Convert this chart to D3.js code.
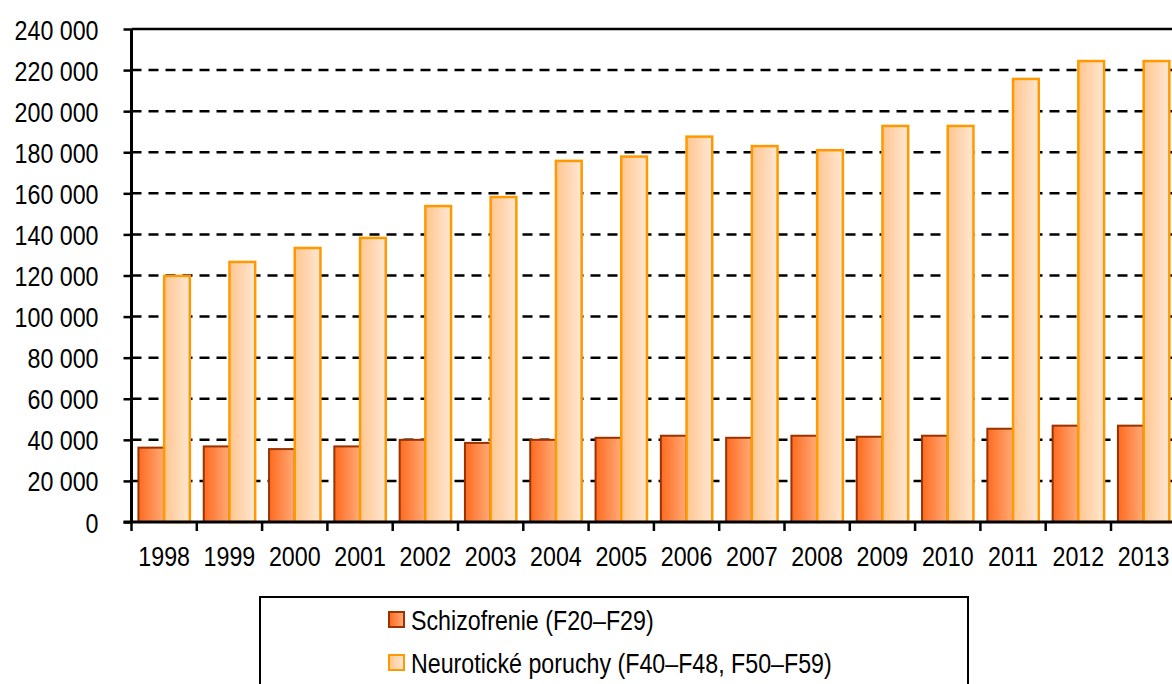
<!DOCTYPE html>
<html>
<head>
<meta charset="utf-8"/>
<script src="https://d3js.org/d3.v7.min.js"></script>
<style>
  body { margin: 0; background: #fff; }
  text { font-family: "Liberation Sans", Arial, sans-serif; font-size: 27px; fill: #000; }
</style>
</head>
<body>
<div id="chart"></div>
<script>
// data
var years = ["1998","1999","2000","2001","2002","2003","2004","2005","2006","2007","2008","2009","2010","2011","2012","2013"];
var schizo = [36200, 36800, 35500, 36800, 40000, 38500, 40000, 41000, 42000, 41000, 42000, 41500, 42000, 45400, 46900, 46900];
var neuro = [119800, 126600, 133400, 138300, 153800, 158200, 175800, 177900, 187600, 183000, 181000, 192800, 192800, 215700, 224400, 224400];
var seriesNames = ["Schizofrenie (F20\u2013F29)", "Neurotick\u00e9 poruchy (F40\u2013F48, F50\u2013F59)"];
var yTicks = [0, 20000, 40000, 60000, 80000, 100000, 120000, 140000, 160000, 180000, 200000, 220000, 240000];

var width = 1172, height = 684;
var plotLeft = 131.5, plotTop = 29, plotBottom = 522;
var k = 0.86; // text is narrower than plain Arial

var loc = d3.formatLocale({decimal: ",", thousands: " ", grouping: [3], currency: ["", ""]});
var fmt = loc.format(",");

var svg = d3.select("#chart").append("svg")
    .attr("width", width)
    .attr("height", height);

var defs = svg.append("defs");
function grad(id, c1, c2) {
    var g = defs.append("linearGradient").attr("id", id)
        .attr("x1", 0).attr("x2", 1).attr("y1", 0).attr("y2", 0);
    g.append("stop").attr("offset", "0%").attr("stop-color", c1);
    g.append("stop").attr("offset", "100%").attr("stop-color", c2);
}
grad("g-schizo", "#ff6a1f", "#ffab78");
grad("g-neuro", "#ffc690", "#ffe7d2");

var x = d3.scaleBand().domain(years).range([plotLeft, plotLeft + 16 * 65.3]);
var xs = d3.scaleBand().domain([0, 1]).range([0, x.bandwidth()]).paddingOuter(0.27);
var y = d3.scaleLinear().domain([0, 240000]).range([plotBottom, plotTop]);

// gridlines
svg.append("g").selectAll("line")
    .data(yTicks.filter(function(d){ return d > 0 && d < 240000; }))
    .enter().append("line")
    .attr("x1", plotLeft).attr("x2", width)
    .attr("y1", function(d){ return y(d); })
    .attr("y2", function(d){ return y(d); })
    .attr("stroke", "#000")
    .attr("stroke-width", 2.5)
    .attr("stroke-dasharray", "10,7");

// top border
svg.append("line")
    .attr("x1", plotLeft).attr("x2", width)
    .attr("y1", y(240000)).attr("y2", y(240000))
    .attr("stroke", "#000").attr("stroke-width", 2.5);

// bars
var groups = svg.append("g").selectAll("g")
    .data(years)
    .enter().append("g")
    .attr("transform", function(d){ return "translate(" + x(d) + ",0)"; });

groups.append("rect")
    .attr("x", xs(0))
    .attr("width", xs.bandwidth())
    .attr("y", function(d, i){ return y(schizo[i]); })
    .attr("height", function(d, i){ return plotBottom - y(schizo[i]); })
    .attr("fill", "url(#g-schizo)")
    .attr("stroke", "#993300")
    .attr("stroke-width", 2);

groups.append("rect")
    .attr("x", xs(1))
    .attr("width", xs.bandwidth())
    .attr("y", function(d, i){ return y(neuro[i]); })
    .attr("height", function(d, i){ return plotBottom - y(neuro[i]); })
    .attr("fill", "url(#g-neuro)")
    .attr("stroke", "#ff9900")
    .attr("stroke-width", 2.5);

// y axis
var yAxis = svg.append("g")
    .attr("transform", "translate(" + plotLeft + ",0)")
    .call(d3.axisLeft(y).tickValues(yTicks).tickSize(8).tickPadding(25).tickFormat(fmt));
yAxis.select(".domain").attr("stroke-width", 3).attr("d", "M0," + plotTop + "V" + plotBottom);
yAxis.selectAll(".tick line").attr("stroke-width", 2.5);
yAxis.selectAll("text").attr("font-size", null).attr("font-family", null).attr("dy", "0.37em");

// x axis
var xAxis = svg.append("g")
    .attr("transform", "translate(0," + plotBottom + ")")
    .call(d3.axisBottom(x).tickSize(0).tickPadding(25));
xAxis.select(".domain").attr("stroke-width", 3).attr("d", "M" + (plotLeft - 8) + ",0H" + width);
xAxis.selectAll("text").attr("font-size", null).attr("font-family", null);
// category boundary ticks
svg.append("g").selectAll("line")
    .data(years)
    .enter().append("line")
    .attr("x1", function(d){ return x(d); })
    .attr("x2", function(d){ return x(d); })
    .attr("y1", plotBottom).attr("y2", plotBottom + 9)
    .attr("stroke", "#000").attr("stroke-width", 2.5);

// legend
var legend = svg.append("g");
legend.append("rect")
    .attr("x", 260).attr("y", 597)
    .attr("width", 708).attr("height", 120)
    .attr("fill", "#fff").attr("stroke", "#000").attr("stroke-width", 2);

var items = legend.selectAll("g.item")
    .data(seriesNames)
    .enter().append("g").attr("class", "item")
    .attr("transform", function(d, i){ return "translate(389," + (612 + i * 43) + ")"; });
items.append("rect")
    .attr("width", 15).attr("height", 15)
    .attr("fill", function(d, i){ return i === 0 ? "url(#g-schizo)" : "url(#g-neuro)"; })
    .attr("stroke", function(d, i){ return i === 0 ? "#993300" : "#ff9900"; })
    .attr("stroke-width", 2);
items.append("text")
    .attr("x", 22).attr("y", 8).attr("dy", "0.37em")
    .text(function(d){ return d; });

// squeeze text to match the narrow face
svg.selectAll("text").each(function(){
    var w = this.getComputedTextLength();
    d3.select(this).attr("textLength", w * k).attr("lengthAdjust", "spacingAndGlyphs");
});
</script>
</body>
</html>
